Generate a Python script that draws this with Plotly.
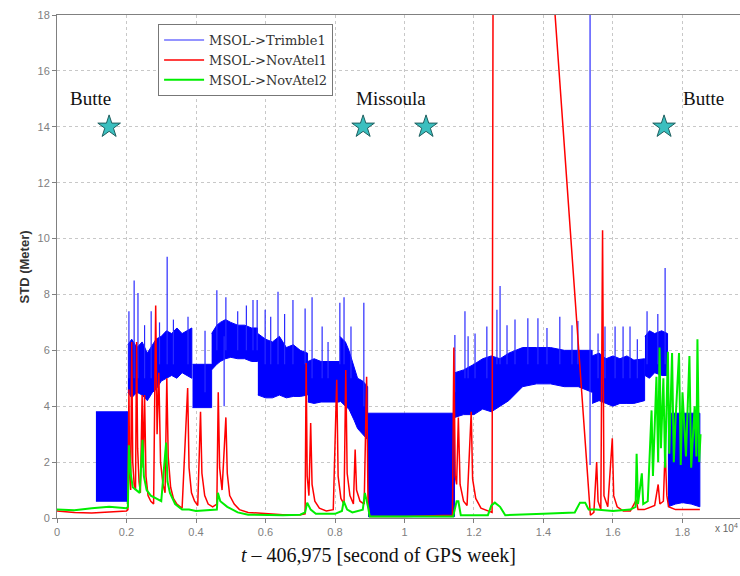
import plotly.graph_objects as go

# ---------------- data (x in units of 1e4 s) ----------------
# Blue (MSOL->Trimble1): dense oscillation drawn as band envelopes per segment
blue_band_x = [
    [0.112, 0.204],
    [0.204, 0.215, 0.23, 0.245, 0.26, 0.275, 0.285, 0.30, 0.315, 0.33, 0.345, 0.36, 0.375, 0.388],
    [0.39, 0.445],
    [0.445, 0.46, 0.47, 0.485, 0.50, 0.52, 0.54, 0.56, 0.577],
    [0.578, 0.60, 0.62, 0.64, 0.66, 0.68, 0.70, 0.721],
    [0.722, 0.74, 0.76, 0.79, 0.813],
    [0.814, 0.83, 0.84, 0.855, 0.865, 0.88, 0.894],
    [0.895, 1.144],
    [1.145, 1.17, 1.20, 1.225, 1.25, 1.275, 1.30, 1.34, 1.38, 1.42, 1.46, 1.50, 1.54],
    [1.54, 1.56, 1.58, 1.60, 1.62, 1.64, 1.66, 1.691],
    [1.692, 1.705, 1.72, 1.74, 1.757],
    [1.758, 1.78, 1.80, 1.825, 1.85],
]
blue_band_hi = [
    [3.8, 3.8],
    [6.2, 6.4, 6.1, 6.3, 5.9, 6.2, 6.4, 6.5, 6.7, 6.6, 6.8, 6.6, 6.7, 6.8],
    [5.5, 5.5],
    [6.6, 6.9, 7.0, 7.1, 7.0, 6.9, 6.9, 6.8, 6.8],
    [6.6, 6.4, 6.3, 6.5, 6.1, 6.2, 6.0, 5.9],
    [5.6, 5.7, 5.6, 5.6, 5.6],
    [6.5, 6.3, 6.0, 5.4, 5.0, 4.9, 4.7],
    [3.75, 3.75],
    [5.2, 5.3, 5.5, 5.7, 5.8, 5.7, 5.9, 6.1, 6.1, 6.1, 6.0, 6.0, 6.0],
    [5.8, 5.9, 5.7, 5.8, 5.7, 5.8, 5.65, 5.7],
    [6.5, 6.7, 6.6, 6.7, 6.6],
    [3.75, 3.75, 3.75, 3.75, 3.75],
]
blue_band_lo = [
    [0.6, 0.6],
    [4.5, 4.3, 4.5, 4.4, 4.2, 4.5, 4.6, 4.9, 5.0, 5.1, 5.0, 5.2, 5.1, 5.0],
    [3.95, 3.95],
    [5.3, 5.5, 5.6, 5.7, 5.75, 5.7, 5.7, 5.6, 5.6],
    [4.4, 4.3, 4.3, 4.4, 4.3, 4.35, 4.35, 4.4],
    [4.15, 4.1, 4.15, 4.15, 4.15],
    [4.2, 4.0, 3.9, 3.5, 3.2, 3.0, 2.8],
    [0.05, 0.05],
    [3.6, 3.7, 3.7, 3.9, 3.8, 4.0, 4.2, 4.7, 4.8, 4.8, 4.7, 4.7, 4.5],
    [4.1, 4.2, 4.1, 4.0, 4.1, 4.1, 4.1, 4.2],
    [5.1, 5.0, 5.2, 5.1, 5.1],
    [0.4, 0.5, 0.55, 0.5, 0.4],
]
# Blue spikes / dips outside the band
blue_spike_x = [0.207, 0.222, 0.233, 0.252, 0.271, 0.295, 0.317, 0.335, 0.377, 0.426,
                0.460, 0.481, 0.486, 0.52, 0.545, 0.564, 0.576, 0.599, 0.615, 0.636,
                0.655, 0.679, 0.714, 0.734, 0.763, 0.78, 0.814, 0.826, 0.846, 0.883,
                1.145, 1.174, 1.183, 1.203, 1.237, 1.266, 1.275, 1.295, 1.318, 1.355,
                1.384, 1.41, 1.447, 1.482, 1.499, 1.534, 1.557, 1.577, 1.606, 1.629,
                1.649, 1.67, 1.698, 1.729, 1.750]
blue_spike_lo = [5.0, 5.0, 5.0, 5.0, 5.0, 5.5, 5.5, 5.5, 5.5, 4.5,
                 6.0, 4.0, 6.0, 6.0, 6.0, 6.0, 6.0, 5.5, 5.5, 5.5,
                 5.5, 5.5, 5.5, 5.0, 5.0, 5.0, 5.5, 5.5, 5.0, 4.0,
                 4.5, 5.0, 5.0, 5.0, 5.0, 5.5, 5.5, 5.5, 5.5, 5.5,
                 5.5, 5.5, 5.5, 5.5, 5.5, 1.9, 5.0, 5.0, 5.0, 5.0,
                 5.0, 5.0, 5.5, 5.5, 5.5]
blue_spike_hi = [7.4, 8.5, 8.05, 6.9, 7.4, 7.0, 9.35, 7.1, 7.2, 6.7,
                 8.15, 6.5, 7.9, 7.4, 7.6, 7.8, 7.8, 7.45, 7.2, 8.1,
                 7.3, 7.8, 7.5, 7.9, 6.85, 6.3, 7.7, 7.9, 6.85, 7.7,
                 6.55, 7.4, 6.5, 6.6, 6.85, 7.45, 8.3, 6.9, 7.1, 7.15,
                 7.15, 6.8, 7.2, 6.9, 7.05, 20.0, 6.6, 6.85, 6.85, 6.85,
                 6.85, 6.4, 7.4, 7.3, 8.95]

# Red (MSOL->NovAtel1)
red_x = [0.0, 0.05, 0.10, 0.15, 0.20, 0.204, 0.207, 0.209, 0.212, 0.215, 0.218, 0.222,
         0.226, 0.229, 0.232, 0.236, 0.240, 0.245, 0.248, 0.252, 0.256, 0.262, 0.270,
         0.278, 0.284, 0.288, 0.293, 0.298, 0.305, 0.311, 0.316, 0.320, 0.327, 0.335,
         0.345, 0.360, 0.376, 0.380, 0.387, 0.396, 0.405, 0.413, 0.417, 0.425, 0.435,
         0.448, 0.460, 0.464, 0.468, 0.475, 0.486, 0.490, 0.497, 0.510, 0.525, 0.55,
         0.60, 0.65, 0.70, 0.714, 0.717, 0.720, 0.725, 0.730, 0.734, 0.742, 0.755,
         0.775, 0.795, 0.805, 0.809, 0.817, 0.826, 0.831, 0.835, 0.843, 0.853, 0.858,
         0.862, 0.872, 0.884, 0.891, 0.895, 0.90, 1.00, 1.138, 1.142, 1.146, 1.150,
         1.155, 1.160, 1.170, 1.180, 1.192, 1.196, 1.205, 1.220, 1.240, 1.252, 1.255,
         1.422, 1.535, 1.545, 1.553, 1.557, 1.565, 1.570, 1.574, 1.585, 1.598, 1.602,
         1.612, 1.630, 1.650, 1.667, 1.672, 1.690, 1.720, 1.730, 1.735, 1.745, 1.750,
         1.755, 1.760, 1.780, 1.820, 1.850]
red_y = [0.25, 0.2, 0.18, 0.22, 0.25, 0.3, 4.6, 1.5, 1.0, 6.3, 2.0, 1.2,
         1.0, 6.3, 2.5, 1.3, 0.9, 4.4, 1.8, 4.4, 1.5, 0.8, 0.6,
         0.5, 7.6, 3.0, 5.2, 2.0, 1.2, 0.9, 5.0, 2.2, 1.1, 0.7,
         0.5, 0.35, 4.65, 1.8, 0.9, 0.6, 0.45, 3.8, 1.6, 0.8, 0.5,
         0.4, 0.5, 4.5, 1.8, 1.0, 3.6, 1.6, 0.8, 0.5, 0.3, 0.2,
         0.15, 0.12, 0.12, 0.15, 5.55, 1.5, 0.8, 3.4, 1.2, 0.6, 0.35,
         0.25, 0.3, 4.95, 1.5, 0.7, 0.5, 5.3, 1.6, 0.8, 0.5, 2.45,
         1.0, 0.6, 0.5, 5.05, 0.5, 0.05, 0.05, 0.1, 6.1, 1.5, 1.2,
         3.6, 1.2, 0.6, 0.45, 3.8, 1.4, 0.7, 0.35, 0.25, 0.2, 20.0,
         20.0, 0.1, 0.2, 2.0, 0.6, 0.3, 10.3, 0.8, 0.4, 2.85, 0.8,
         0.4, 0.25, 0.25, 0.65, 0.3, 0.3, 0.45, 1.2, 0.5, 0.6, 2.45,
         0.8, 0.4, 0.3, 0.3, 0.3]

# Green (MSOL->NovAtel2)
green_x = [0.0, 0.05, 0.10, 0.15, 0.20, 0.204, 0.207, 0.212, 0.218, 0.228, 0.238, 0.246,
           0.250, 0.258, 0.270, 0.285, 0.300, 0.314, 0.318, 0.325, 0.340, 0.360, 0.380,
           0.400, 0.440, 0.460, 0.463, 0.470, 0.490, 0.520, 0.550, 0.600, 0.650, 0.700,
           0.714, 0.720, 0.730, 0.745, 0.800, 0.820, 0.825, 0.835, 0.850, 0.880, 0.886,
           0.895, 0.900, 1.000, 1.140, 1.150, 1.155, 1.162, 1.240, 1.250, 1.260, 1.275,
           1.290, 1.400, 1.490, 1.505, 1.520, 1.530, 1.550, 1.600, 1.650, 1.665, 1.668,
           1.672, 1.683, 1.687, 1.700, 1.711, 1.715, 1.725, 1.730, 1.734, 1.738, 1.745,
           1.750, 1.758, 1.762, 1.770, 1.775, 1.780, 1.790, 1.795, 1.800, 1.810, 1.820,
           1.825, 1.835, 1.840, 1.843, 1.848, 1.852]
green_y = [0.3, 0.28, 0.35, 0.4, 0.35, 0.4, 2.6, 1.6, 1.1, 1.0, 0.9, 2.8,
           1.5, 1.0, 0.8, 0.7, 0.6, 2.7, 1.3, 0.9, 0.5, 0.3, 0.3,
           0.25, 0.3, 0.3, 0.9, 0.6, 0.4, 0.2, 0.12, 0.1, 0.1, 0.12,
           0.2, 0.55, 0.3, 0.15, 0.15, 0.25, 0.6, 0.3, 0.2, 0.3, 0.9,
           0.4, 0.05, 0.05, 0.05, 0.6, 0.6, 0.1, 0.1, 0.45, 0.55, 0.4,
           0.1, 0.15, 0.2, 0.55, 0.55, 0.3, 0.3, 0.25, 0.3, 0.4, 2.3,
           0.5, 1.6, 0.5, 0.6, 3.85, 1.5, 5.05, 2.0, 6.1, 2.5, 5.0,
           1.8, 5.95, 2.3, 5.9, 2.0, 3.5, 5.9, 1.9, 4.5, 2.2, 5.8,
           1.8, 4.0, 2.2, 6.4, 2.0, 3.0]

# Locations marked with stars
star_x = [0.150, 0.881, 1.062, 1.747]
star_y = [14, 14, 14, 14]
place_names = ["Butte", "Missoula", "Butte"]
place_x = [0.095, 0.96, 1.86]
place_y = [15.0, 15.0, 15.0]

legend_names = ["MSOL->Trimble1", "MSOL->NovAtel1", "MSOL->NovAtel2"]
x_ticks = [0, 0.2, 0.4, 0.6, 0.8, 1.0, 1.2, 1.4, 1.6, 1.8]
x_ticktext = ["0", "0.2", "0.4", "0.6", "0.8", "1", "1.2", "1.4", "1.6", "1.8"]
y_ticks = [0, 2, 4, 6, 8, 10, 12, 14, 16, 18]

# ---------------- build ----------------
BLUE = "#0000FF"
RED = "#FF0000"
GREEN = "#00EE00"
SERIF = "Liberation Serif, Times New Roman, serif"
SANS = "Liberation Sans, Arial, sans-serif"

poly_x, poly_y = [], []
for xs, hi, lo in zip(blue_band_x, blue_band_hi, blue_band_lo):
    poly_x += xs + xs[::-1] + [None]
    poly_y += hi + lo[::-1] + [None]

spk_x, spk_y = [], []
for x, lo, hi in zip(blue_spike_x, blue_spike_lo, blue_spike_hi):
    spk_x += [x, x, None]
    spk_y += [lo, hi, None]

fig = go.Figure()
fig.add_trace(go.Scatter(x=poly_x, y=poly_y, mode="lines", fill="toself",
                         fillcolor=BLUE, line=dict(color=BLUE, width=1),
                         showlegend=False, hoverinfo="skip", legendgroup="b"))
fig.add_trace(go.Scatter(x=spk_x, y=spk_y, mode="lines", name=legend_names[0],
                         line=dict(color="#2a2aff", width=1.2), legendgroup="b"))
fig.add_trace(go.Scatter(x=red_x, y=red_y, mode="lines", name=legend_names[1],
                         line=dict(color=RED, width=1.5)))
fig.add_trace(go.Scatter(x=green_x, y=green_y, mode="lines", name=legend_names[2],
                         line=dict(color=GREEN, width=2)))
fig.add_trace(go.Scatter(x=star_x, y=star_y, mode="markers", showlegend=False,
                         marker=dict(symbol="star", size=17, color="#3BBFBF",
                                     line=dict(color="#1f5f5f", width=1))))

for name, x, y in zip(place_names, place_x, place_y):
    fig.add_annotation(x=x, y=y, xref="x", yref="y", text=name, showarrow=False,
                       font=dict(family=SERIF, size=19, color="#111"))

fig.add_annotation(xref="paper", yref="paper", x=0.47, y=-0.074, yanchor="middle",
                   text="<i>t</i> \u2013 406,975 [second of GPS week]", showarrow=False,
                   font=dict(family=SERIF, size=20, color="#111"))
fig.add_annotation(xref="paper", yref="paper", x=-0.047, y=0.5, xanchor="center",
                   textangle=-90,
                   text="<b>STD (Meter)</b>", showarrow=False,
                   font=dict(family=SANS, size=13, color="#333"))
fig.add_annotation(xref="paper", yref="paper", x=1.0, y=-0.035, xanchor="right",
                   text="x 10<sup>4</sup>", showarrow=False,
                   font=dict(family=SANS, size=10, color="#666"))

axis_common = dict(showgrid=True, gridcolor="#c8c8c8", griddash="dot", gridwidth=1,
                   showline=True, linecolor="#808080", linewidth=1, mirror=True,
                   ticks="outside", ticklen=4, tickcolor="#808080", zeroline=False,
                   tickfont=dict(family=SANS, size=11, color="#808080"))
fig.update_xaxes(range=[0, 1.9655], tickvals=x_ticks, ticktext=x_ticktext, **axis_common)
fig.update_yaxes(range=[0, 18], tickvals=y_ticks, **axis_common)

fig.update_layout(
    width=740, height=576,
    margin=dict(l=57, r=0, t=15, b=58),
    paper_bgcolor="white", plot_bgcolor="white",
    showlegend=True,
    legend=dict(x=0.148, y=0.982, xanchor="left", yanchor="top",
                bgcolor="white", bordercolor="#777", borderwidth=1,
                font=dict(family="DejaVu Serif, serif", size=13, color="#333"),
                tracegroupgap=0, itemwidth=40),
)

fig.write_html("out.html")
